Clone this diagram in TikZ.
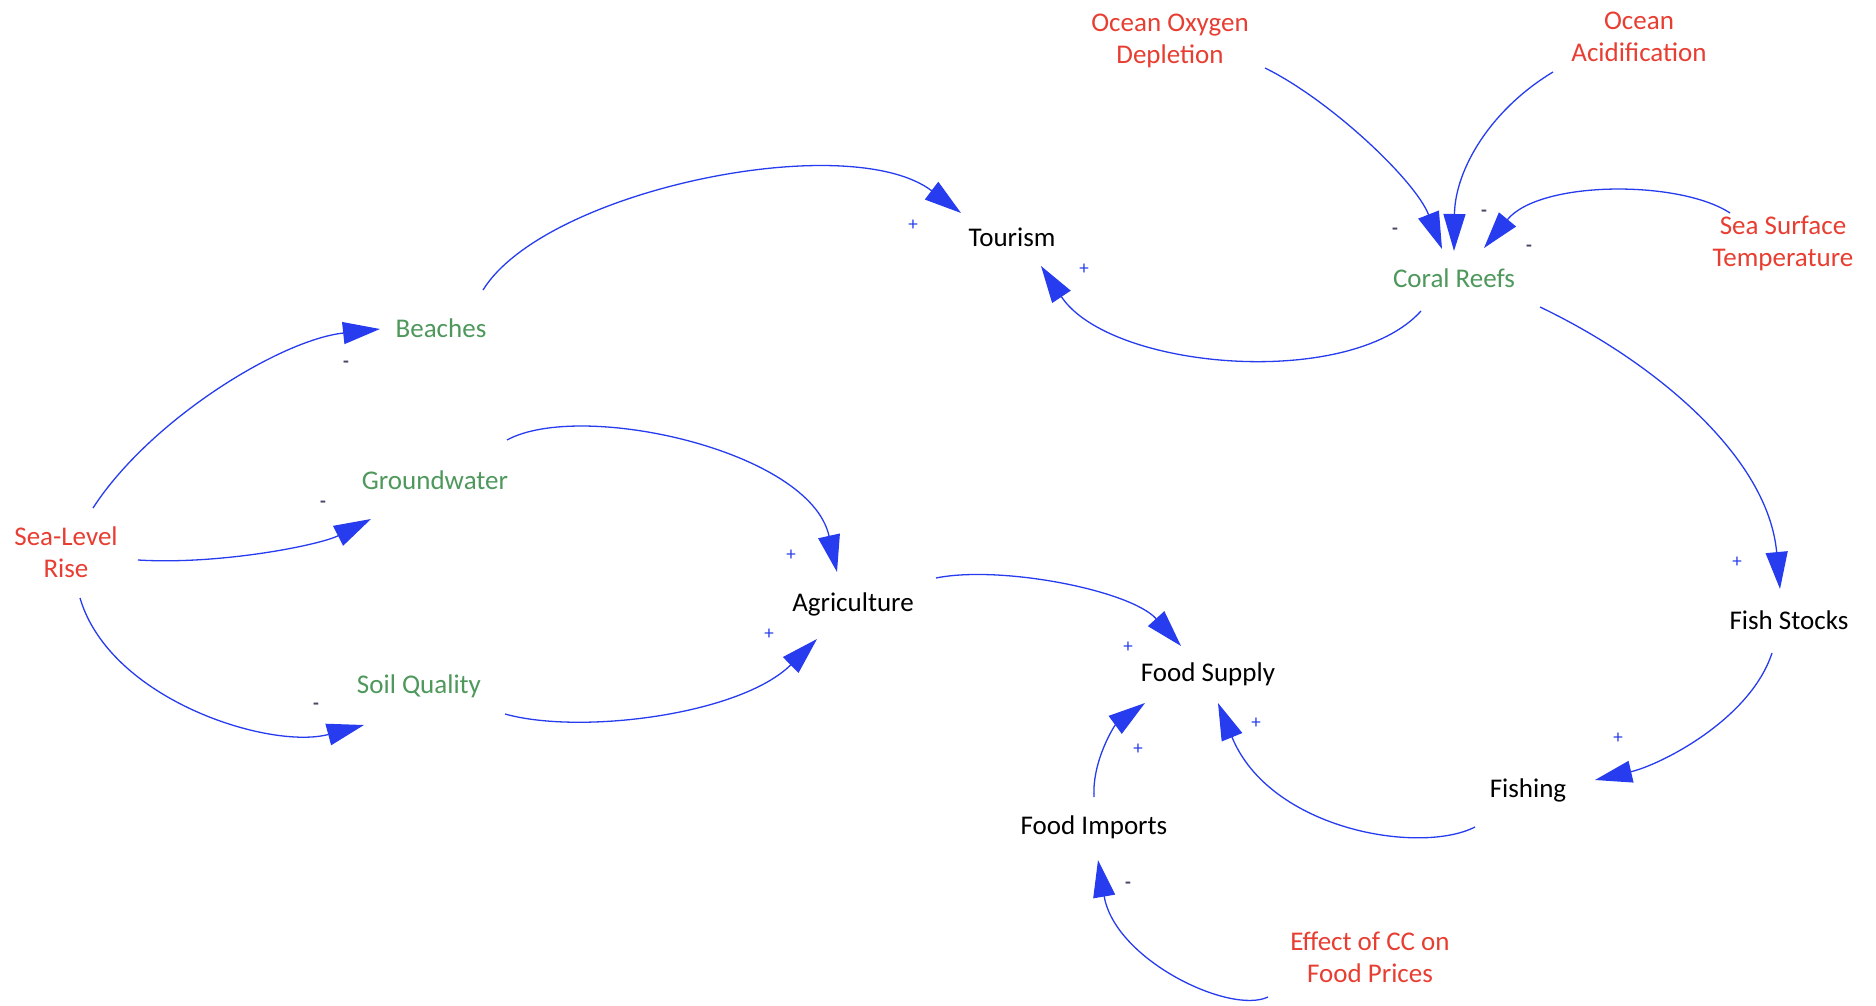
\documentclass[tikz,border=0pt]{standalone}
\usepackage{fontspec}
\setmainfont{Carlito}
\usetikzlibrary{arrows.meta}
\definecolor{cldred}{RGB}{232,62,50}
\definecolor{cldgreen}{RGB}{78,152,92}
\definecolor{cldblue}{RGB}{38,60,238}
\definecolor{cldgrey}{RGB}{70,72,100}
\begin{document}
\begin{tikzpicture}[x=1pt,y=-1pt,
  var/.style={font=\fontsize{27}{32}\selectfont, inner sep=2pt, align=center},
  exo/.style={var, text=cldred},
  mid/.style={var, text=cldgreen},
  core/.style={var, text=black},
  conn/.style={draw=cldblue, line width=1.3pt, -{Triangle[length=37pt,width=22pt]}, fill=none},
  sgn/.style={font=\fontsize{19}{20}\selectfont, text=cldblue, inner sep=0pt},
  neg/.style={font=\bfseries\fontsize{19}{20}\selectfont, text=cldgrey, inner sep=0pt},
]
\useasboundingbox[fill=white] (0,0) rectangle (1876,1006);

% nodes
\node[exo]  (oxy)  at (1170,41)  {Ocean Oxygen\\Depletion};
\node[exo]  (acid) at (1639,37)  {Ocean\\Acidification};
\node[exo]  (sst)  at (1783,243) {Sea Surface\\Temperature};
\node[mid]  (coral) at (1454,278) {Coral Reefs};
\node[core] (tour) at (1012,237) {Tourism};
\node[mid]  (beach) at (441,328) {Beaches};
\node[mid]  (ground) at (435,480) {Groundwater};
\node[exo]  (slr)  at (66,552)   {Sea-Level\\Rise};
\node[mid]  (soil) at (419,686)  {Soil Quality};
\node[core] (agri) at (853,604)  {Agriculture};
\node[core] (fsup) at (1208,674) {Food Supply};
\node[core] (fish) at (1789,620) {Fish Stocks};
\node[core] (fing) at (1528,790) {Fishing};
\node[core] (fimp) at (1094,827) {Food Imports};
\node[exo]  (cc)   at (1370,957) {Effect of CC on\\Food Prices};

% connectors
\draw[conn] ([shift={(42,-38)}]beach.center) .. controls +(62,-100) and +(-112,-85) .. ([shift={(-51,-24)}]tour.center);
\draw[conn] ([shift={(-33,33)}]coral.center) .. controls +(-71,79) and +(69,104) .. ([shift={(29,29)}]tour.center);
\draw[conn] ([shift={(-189,-210)}]coral.center) .. controls +(65,32) and +(-27,-69) .. ([shift={(-12,-29)}]coral.center);
\draw[conn] ([shift={(99,-206)}]coral.center) .. controls +(-63,38) and +(1,-81) .. ([shift={(0,-27)}]coral.center);
\draw[conn] ([shift={(-53,-30)}]sst.center) .. controls +(-50,-33) and +(56,-68) .. ([shift={(30,-30)}]coral.center);
\draw[conn] ([shift={(86,29)}]coral.center) .. controls +(115,55) and +(-12,-132) .. ([shift={(-9,-31)}]fish.center);
\draw[conn] ([shift={(-17,33)}]fish.center) .. controls +(-22,67) and +(65,-15) .. ([shift={(67,-10)}]fing.center);
\draw[conn] ([shift={(-53,37)}]fing.center) .. controls +(-55,28) and +(52,127) .. ([shift={(10,29)}]fsup.center);
\draw[conn] ([shift={(0,-30)}]fimp.center) .. controls +(-2,-37) and +(-30,22) .. ([shift={(-63,29)}]fsup.center);
\draw[conn] ([shift={(-102,40)}]cc.center) .. controls +(-38,18) and +(17,100) .. ([shift={(4,33)}]fimp.center);
\draw[conn] ([shift={(83,-26)}]agri.center) .. controls +(64,-13) and +(-51,-56) .. ([shift={(-27,-28)}]fsup.center);
\draw[conn] ([shift={(72,-40)}]ground.center) .. controls +(73,-40) and +(-27,-122) .. ([shift={(-16,-32)}]agri.center);
\draw[conn] ([shift={(86,28)}]soil.center) .. controls +(75,21) and +(-77,76) .. ([shift={(-36,35)}]agri.center);
\draw[conn] ([shift={(27,-44)}]slr.center) .. controls +(57,-88) and +(-100,11) .. ([shift={(-61,1)}]beach.center);
\draw[conn] ([shift={(72,8)}]slr.center) .. controls +(82,5) and +(-51,26) .. ([shift={(-64,39)}]ground.center);
\draw[conn] ([shift={(14,46)}]slr.center) .. controls +(30,102) and +(-94,25) .. ([shift={(-55,39)}]soil.center);

% polarity signs
\node[sgn] (s1)  at (913,225)  {+};
\node[sgn] (s2)  at (1084,269) {+};
\node[neg] (s3)  at (1395,231) {-};
\node[neg] (s4)  at (1484,213) {-};
\node[neg] (s5)  at (1529,248) {-};
\node[sgn] (s6)  at (1737,562) {+};
\node[sgn] (s7)  at (1618,738) {+};
\node[sgn] (s8)  at (1256,723) {+};
\node[sgn] (s9)  at (1138,749) {+};
\node[neg] (s10) at (1128,885) {-};
\node[sgn] (s11) at (1128,647) {+};
\node[sgn] (s12) at (791,555)  {+};
\node[sgn] (s13) at (769,634)  {+};
\node[neg] (s14) at (346,364)  {-};
\node[neg] (s15) at (323,504)  {-};
\node[neg] (s16) at (316,706)  {-};
\end{tikzpicture}
\end{document}
